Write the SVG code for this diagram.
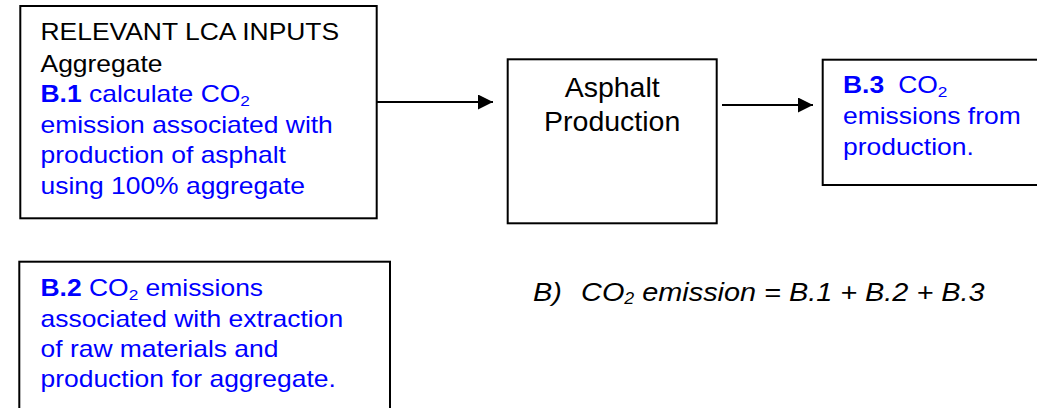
<svg xmlns="http://www.w3.org/2000/svg" width="1037" height="408" viewBox="0 0 1037 408">
<style>
.box{fill:#fff;stroke:#000;stroke-width:2}
.t{font-family:"Liberation Sans",Arial,sans-serif;font-size:23px}
.blk{fill:#000}
.blu{fill:#0000ff}
.sub{font-size:15px}
.conn{stroke:#000;stroke-width:2;fill:none}
</style>
<defs>
<marker id="ah" markerUnits="userSpaceOnUse" viewBox="0 0 15 15" refX="15" refY="7.5" markerWidth="15" markerHeight="15" orient="auto">
<path d="M0,0 L15,7.5 L0,15 z" fill="#000"/>
</marker>
</defs>
<g id="connectors">
<line class="conn" x1="377" y1="102" x2="493" y2="102" marker-end="url(#ah)"/>
<line class="conn" x1="722" y1="105" x2="813" y2="105" marker-end="url(#ah)"/>
</g>
<g id="inputs">
<rect class="box" x="20.3" y="6" width="356.4" height="212.3"/>
<text class="t blk" transform="translate(40.5,39.5) scale(1.15,1)">RELEVANT LCA INPUTS</text>
<text class="t blk" transform="translate(40.5,71.5) scale(1.15,1)">Aggregate</text>
<text class="t blu" transform="translate(40.5,102) scale(1.15,1)"><tspan font-weight="bold">B.1</tspan> calculate CO<tspan class="sub" dy="4">2</tspan></text>
<text class="t blu" transform="translate(40.5,132.5) scale(1.15,1)">emission associated with</text>
<text class="t blu" transform="translate(40.5,163) scale(1.15,1)">production of asphalt</text>
<text class="t blu" transform="translate(40.5,193.5) scale(1.15,1)">using 100% aggregate</text>
</g>
<g id="asphalt">
<rect class="box" x="507.7" y="59.3" width="209" height="164"/>
<text class="blk" font-family="Liberation Sans,Arial,sans-serif" font-size="28.5" text-anchor="middle" x="612.2" y="96.7">Asphalt</text>
<text class="blk" font-family="Liberation Sans,Arial,sans-serif" font-size="28.5" text-anchor="middle" x="612.2" y="130.5">Production</text>
</g>
<g id="b3">
<rect class="box" x="822.7" y="59.7" width="230" height="125.3"/>
<text class="t blu" transform="translate(843,93) scale(1.15,1)"><tspan font-weight="bold">B.3</tspan><tspan x="48">CO</tspan><tspan class="sub" dy="4">2</tspan></text>
<text class="t blu" transform="translate(843,124) scale(1.15,1)">emissions from</text>
<text class="t blu" transform="translate(843,155) scale(1.15,1)">production.</text>
</g>
<g id="b2">
<rect class="box" x="19.3" y="261.7" width="370.7" height="160"/>
<text class="t blu" transform="translate(40.5,296) scale(1.15,1)"><tspan font-weight="bold">B.2</tspan> CO<tspan class="sub" dy="4">2</tspan><tspan dy="-4"> emissions</tspan></text>
<text class="t blu" transform="translate(40.5,326.5) scale(1.15,1)">associated with extraction</text>
<text class="t blu" transform="translate(40.5,357) scale(1.15,1)">of raw materials and</text>
<text class="t blu" transform="translate(40.5,387) scale(1.15,1)">production for aggregate.</text>
</g>
<g id="formula">
<text class="blk" font-family="Liberation Sans,Arial,sans-serif" font-size="26" font-style="italic" transform="translate(533,300.5) scale(1.11,1)">B)<tspan x="43.3">CO</tspan><tspan font-size="16" dy="3.5">2</tspan><tspan dy="-3.5"> emission = B.1 + B.2 + B.3</tspan></text>
</g>
</svg>
